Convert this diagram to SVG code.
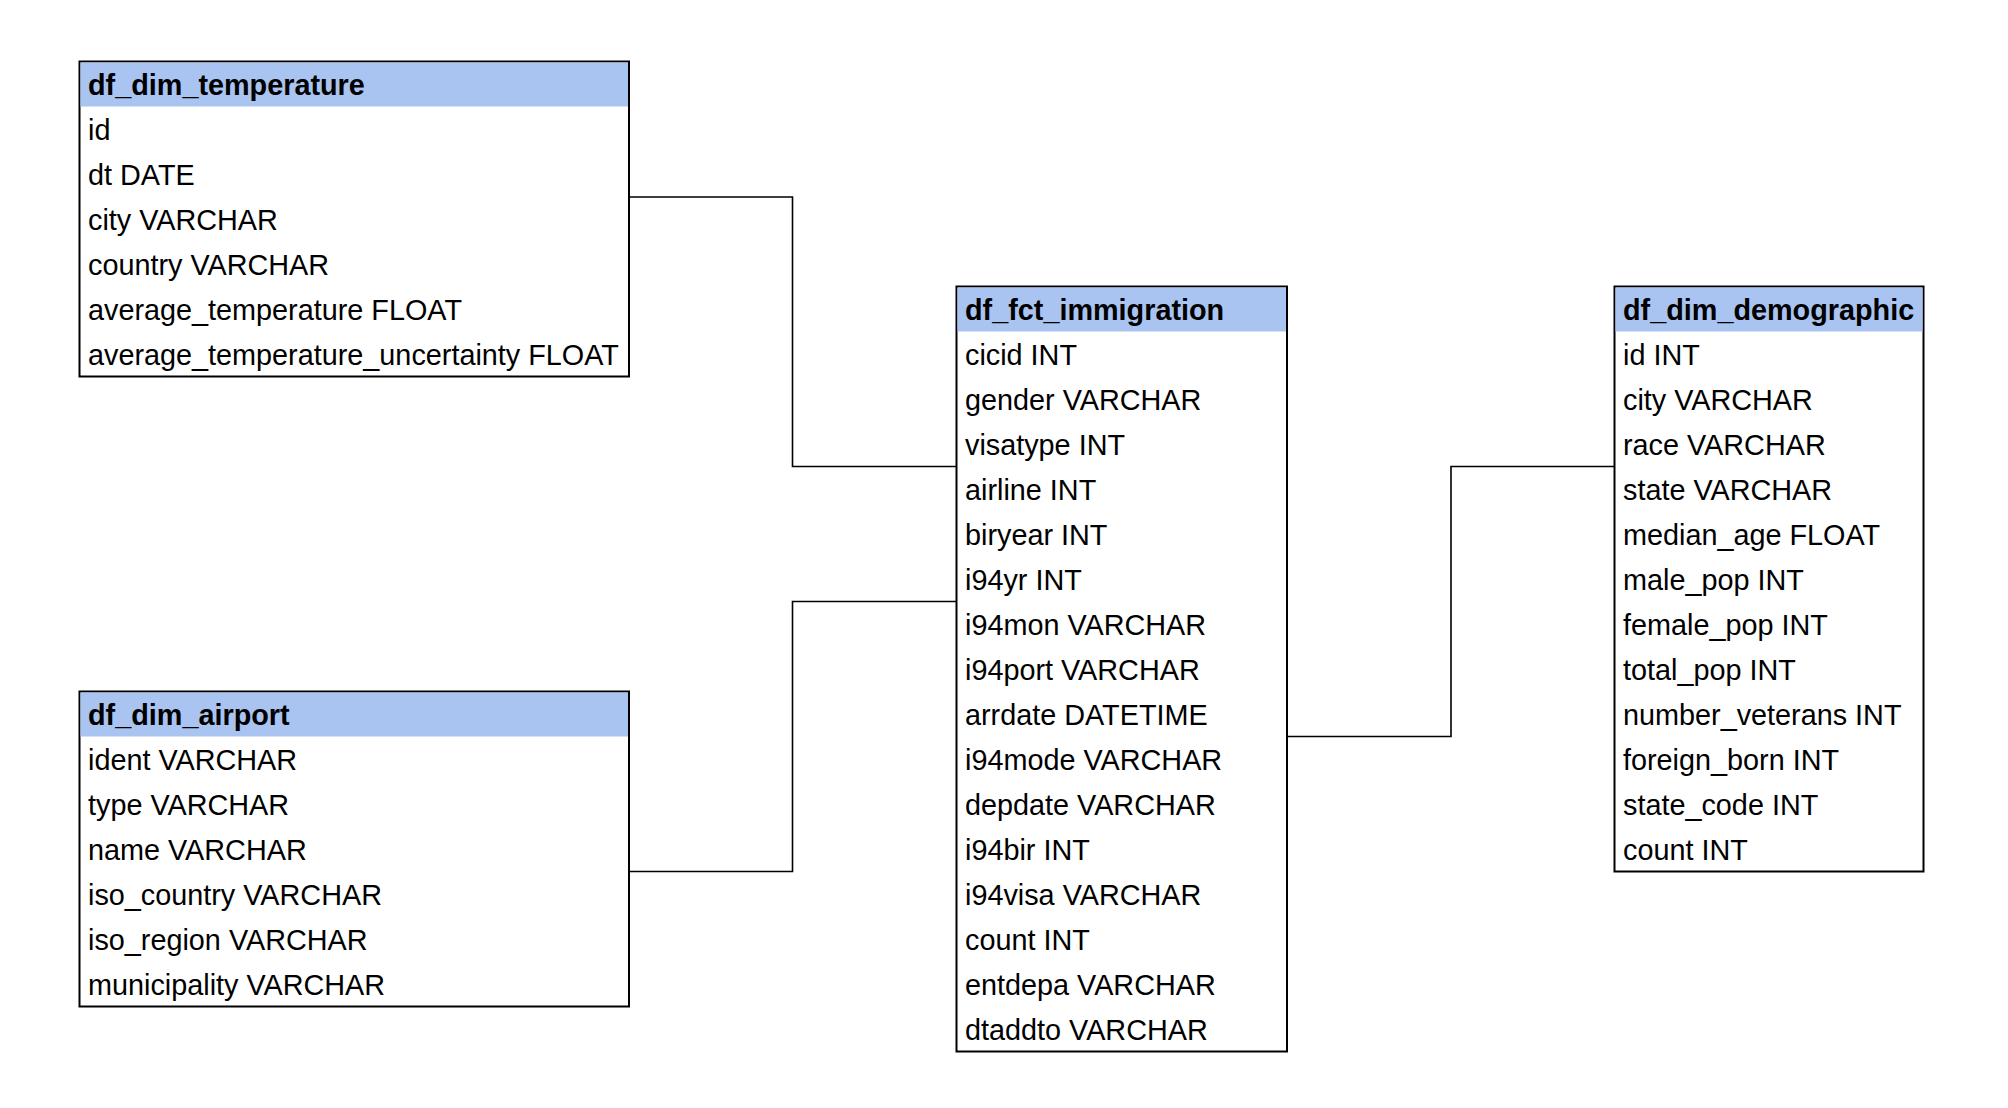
<svg xmlns="http://www.w3.org/2000/svg" width="2008" height="1108" viewBox="0 0 2008 1108">
<style>
.box{fill:#ffffff;stroke:#000000;stroke-width:2}
.head{fill:#a9c4f0;stroke:none}
.title{font-family:"Liberation Sans",Arial,sans-serif;font-size:28.8px;font-weight:bold;fill:#000000}
.row{font-family:"Liberation Sans",Arial,sans-serif;font-size:28.8px;fill:#000000}
.conn{fill:none;stroke:#000000;stroke-width:1.6}
</style>
<rect width="2008" height="1108" fill="#ffffff"/>
<g id="connectors">
<path class="conn" d="M629,197 H792.5 V466.5 H956.5"/>
<path class="conn" d="M629,871.5 H792.5 V601.5 H956.5"/>
<path class="conn" d="M1287,736.5 H1451 V466.5 H1614.5"/>
</g>
<g id="df_dim_temperature">
<rect class="box" x="79.5" y="61.5" width="549.5" height="315"/>
<rect class="head" x="80.5" y="62.5" width="547.5" height="44"/>
<text class="title" x="88" y="95">df_dim_temperature</text>
<text class="row" x="88" y="140">id</text>
<text class="row" x="88" y="185">dt DATE</text>
<text class="row" x="88" y="230">city VARCHAR</text>
<text class="row" x="88" y="275">country VARCHAR</text>
<text class="row" x="88" y="320">average_temperature FLOAT</text>
<text class="row" x="88" y="365">average_temperature_uncertainty FLOAT</text>
</g>
<g id="df_dim_airport">
<rect class="box" x="79.5" y="691.5" width="549.5" height="315"/>
<rect class="head" x="80.5" y="692.5" width="547.5" height="44"/>
<text class="title" x="88" y="725">df_dim_airport</text>
<text class="row" x="88" y="770">ident VARCHAR</text>
<text class="row" x="88" y="815">type VARCHAR</text>
<text class="row" x="88" y="860">name VARCHAR</text>
<text class="row" x="88" y="905">iso_country VARCHAR</text>
<text class="row" x="88" y="950">iso_region VARCHAR</text>
<text class="row" x="88" y="995">municipality VARCHAR</text>
</g>
<g id="df_fct_immigration">
<rect class="box" x="956.5" y="286.5" width="330.5" height="765"/>
<rect class="head" x="957.5" y="287.5" width="328.5" height="44"/>
<text class="title" x="965" y="320">df_fct_immigration</text>
<text class="row" x="965" y="365">cicid INT</text>
<text class="row" x="965" y="410">gender VARCHAR</text>
<text class="row" x="965" y="455">visatype INT</text>
<text class="row" x="965" y="500">airline INT</text>
<text class="row" x="965" y="545">biryear INT</text>
<text class="row" x="965" y="590">i94yr INT</text>
<text class="row" x="965" y="635">i94mon VARCHAR</text>
<text class="row" x="965" y="680">i94port VARCHAR</text>
<text class="row" x="965" y="725">arrdate DATETIME</text>
<text class="row" x="965" y="770">i94mode VARCHAR</text>
<text class="row" x="965" y="815">depdate VARCHAR</text>
<text class="row" x="965" y="860">i94bir INT</text>
<text class="row" x="965" y="905">i94visa VARCHAR</text>
<text class="row" x="965" y="950">count INT</text>
<text class="row" x="965" y="995">entdepa VARCHAR</text>
<text class="row" x="965" y="1040">dtaddto VARCHAR</text>
</g>
<g id="df_dim_demographic">
<rect class="box" x="1614.5" y="286.5" width="309" height="585"/>
<rect class="head" x="1615.5" y="287.5" width="307" height="44"/>
<text class="title" x="1623" y="320">df_dim_demographic</text>
<text class="row" x="1623" y="365">id INT</text>
<text class="row" x="1623" y="410">city VARCHAR</text>
<text class="row" x="1623" y="455">race VARCHAR</text>
<text class="row" x="1623" y="500">state VARCHAR</text>
<text class="row" x="1623" y="545">median_age FLOAT</text>
<text class="row" x="1623" y="590">male_pop INT</text>
<text class="row" x="1623" y="635">female_pop INT</text>
<text class="row" x="1623" y="680">total_pop INT</text>
<text class="row" x="1623" y="725">number_veterans INT</text>
<text class="row" x="1623" y="770">foreign_born INT</text>
<text class="row" x="1623" y="815">state_code INT</text>
<text class="row" x="1623" y="860">count INT</text>
</g>
</svg>
